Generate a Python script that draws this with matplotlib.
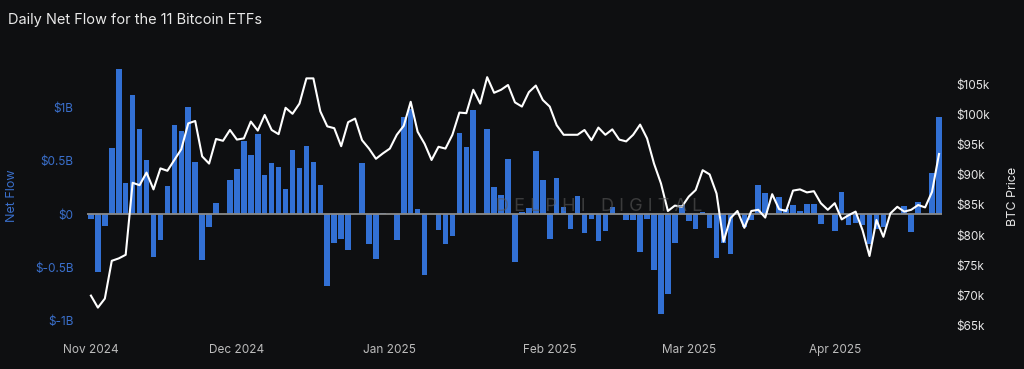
import numpy as np
import pandas as pd
import matplotlib
matplotlib.use('Agg')
import matplotlib.pyplot as plt
from matplotlib.ticker import FixedLocator, FuncFormatter

plt.rcParams['font.family'] = ['Inter', 'DejaVu Sans']

# weekdays, Nov 1 2024 .. Apr 22 2025 (holidays are in with zero flow)
dates = pd.bdate_range('2024-11-01', '2025-04-22')

# daily net flow, $B
flows = [
    -0.05, -0.54, -0.11, 0.62, 1.36, 0.29, 1.12, 0.80, 0.51, -0.40,
    -0.24, 0.26, 0.83, 0.78, 1.00, 0.49, -0.43, -0.12, 0.10, 0.0,
    0.32, 0.42, 0.68, 0.55, 0.75, 0.37, 0.48, 0.44, 0.23, 0.60,
    0.43, 0.64, 0.49, 0.27, -0.67, -0.275, -0.23, -0.34, 0.0, 0.475,
    -0.28, -0.42, 0.005, 0.0, -0.24, 0.91, 0.98, 0.05, -0.57, 0.0,
    -0.15, -0.28, -0.21, 0.76, 0.63, 0.975, 0.0, 0.80, 0.25, 0.18,
    0.52, -0.45, 0.02, 0.06, 0.59, 0.32, -0.23, 0.34, 0.07, -0.14,
    0.17, -0.18, -0.05, -0.25, -0.16, 0.07, 0.0, -0.06, -0.06, -0.36,
    -0.05, -0.52, -0.94, -0.75, -0.275, 0.08, -0.07, -0.14, 0.02, -0.13,
    -0.41, -0.27, -0.37, 0.0, -0.12, -0.06, 0.27, 0.20, 0.0, 0.16,
    0.05, 0.08, 0.025, 0.09, 0.09, -0.09, 0.0, -0.16, 0.21, -0.10,
    -0.08, -0.10, -0.28, -0.14, -0.12, 0.0, 0.0, 0.075, -0.17, 0.11,
    0.0, 0.38, 0.91,
]

# BTC price, $k
price = [
    69.9, 67.9, 69.4, 75.7, 76.1, 76.7, 88.7, 88.3, 90.4, 87.6,
    91.1, 90.7, 92.5, 94.3, 98.6, 99.0, 93.1, 91.9, 96.0, 95.7,
    97.5, 95.9, 96.1, 98.9, 97.4, 100.0, 97.5, 96.8, 101.2, 100.2,
    101.9, 106.1, 106.1, 100.6, 98.1, 97.8, 94.8, 98.8, 99.4, 95.8,
    94.4, 92.7, 93.6, 94.4, 96.7, 98.2, 102.2, 97.2, 95.2, 92.5,
    94.7, 94.4, 96.7, 100.4, 100.3, 104.2, 101.9, 106.3, 103.7, 104.2,
    105.0, 102.1, 101.4, 103.8, 104.9, 102.5, 101.4, 98.3, 96.7, 96.7,
    96.7, 97.5, 95.8, 97.9, 96.7, 97.6, 95.9, 95.6, 96.7, 98.4,
    96.1, 91.9, 88.6, 84.0, 84.9, 84.7, 86.4, 87.5, 90.8, 90.1,
    86.9, 78.9, 82.8, 84.0, 81.2, 84.0, 84.2, 82.9, 86.8, 84.3,
    84.0, 87.4, 87.6, 87.1, 87.3, 85.3, 84.2, 85.3, 82.6, 83.3,
    83.9, 80.8, 76.5, 82.5, 79.7, 83.6, 84.7, 83.9, 84.2, 85.0,
    84.6, 87.2, 93.5,
]

flow_ticks = [-1, -0.5, 0, 0.5, 1]
flow_labels = ['$-1B', '$-0.5B', '$0', '$0.5B', '$1B']
price_ticks = [65, 70, 75, 80, 85, 90, 95, 100, 105]

bg = '#0e0f11'
blue = '#3270d4'
blue_txt = '#3a6fcb'

x = np.arange(len(dates))

fig = plt.figure(figsize=(10.24, 3.69), dpi=100, facecolor=bg)
ax = fig.add_axes([0.0854, 0.1057, 0.835, 0.7263])
ax.set_facecolor(bg)
ax.bar(x, flows, width=0.8, color=blue, zorder=2)
ax.axhline(0, color='#8a8a8a', lw=1.3, zorder=3)
ax.set_xlim(-0.5, len(dates) - 0.5)
ax.set_ylim(-1.087, 1.425)
ax.yaxis.set_major_locator(FixedLocator(flow_ticks))
ax.set_yticklabels(flow_labels)
ax.tick_params(axis='y', length=0, colors=blue_txt, labelsize=8.5, pad=10)
ax.set_ylabel('Net Flow', color=blue_txt, fontsize=9, labelpad=12)

# month ticks
month_pos = [i for i, d in enumerate(dates) if d.day <= 3 and (i == 0 or dates[i - 1].month != d.month)]
ax.set_xticks(month_pos)
ax.set_xticklabels([dates[i].strftime('%b %Y') for i in month_pos])
ax.tick_params(axis='x', length=0, colors='#bcbcbc', labelsize=8.5, pad=10)
for s in ax.spines.values():
    s.set_visible(False)

ax2 = ax.twinx()
ax2.plot(x, price, color='white', lw=1.5, zorder=5)
ax2.set_ylim(64.17, 108.83)
ax2.yaxis.set_major_locator(FixedLocator(price_ticks))
ax2.yaxis.set_major_formatter(FuncFormatter(lambda v, p: '$%dk' % v))
ax2.tick_params(axis='y', length=0, colors='#e6e6e6', labelsize=8.5, pad=10)
ax2.set_ylabel('BTC Price', color='#e6e6e6', fontsize=9, labelpad=12)
for s in ax2.spines.values():
    s.set_visible(False)

# faint watermark
fig.text(0.585, 0.44, 'D E L P H I   D I G I T A L', color='#5a5a5a', alpha=0.6,
         fontsize=13, ha='center', va='center', zorder=0)
fig.text(0.008, 0.945, 'Daily Net Flow for the 11 Bitcoin ETFs', color='#e8e8e8',
         fontsize=10.5, ha='left', va='center')

fig.savefig('out.png', dpi=100, facecolor=bg)
